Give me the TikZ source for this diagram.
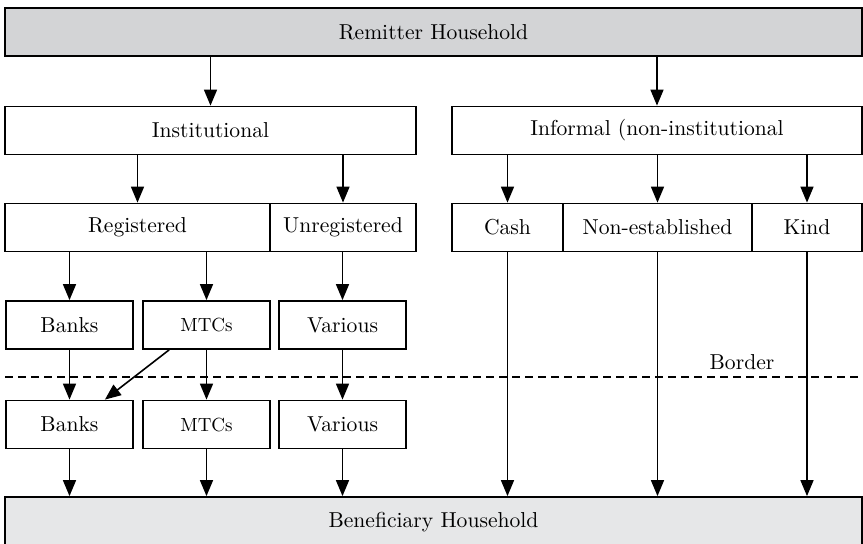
\documentclass[tikz,border=0pt]{standalone}
\usepackage{xcolor}
\usetikzlibrary{arrows.meta,positioning,calc}
\definecolor{housetop}{HTML}{D3D4D6}
\definecolor{housebot}{HTML}{E6E7E8}

\begin{document}
\begin{tikzpicture}[
    x=0.5pt, y=-0.5pt,
    font=\fontsize{10.8}{12}\selectfont,
    box/.style={rectangle, draw, line width=0.9pt, inner sep=0pt, minimum height=24pt, align=center},
    house/.style={box, minimum width=428.5pt},
    agent/.style={box, minimum width=63.5pt},
    arrow/.style={-{Triangle[length=8pt,width=6.5pt]}, line width=0.8pt}
]
\useasboundingbox (0,0) rectangle (863,543);

% Households
\node[house, fill=housetop] (remit) at (433.5,32) {Remitter Household};
\node[house, fill=housebot, minimum height=25pt] (benef) at (433.5,522) {Beneficiary Household};

% Channels
\node[box, minimum width=205.5pt] (inst) at (210.5,130.5) {Institutional};
\node[box, minimum width=205pt] (infor) at (657,130.5) {Informal (non-institutional};

% Types
\node[box, minimum width=132.5pt] (reg) at (137.5,227.5) {Registered};
\node[box, minimum width=73pt] (unreg) at (343,227.5) {Unregistered};
\node[box, minimum width=55.5pt] (cash) at (507.5,227.5) {Cash};
\node[box, minimum width=94.5pt] (nonest) at (657.5,227.5) {Non-established};
\node[box, minimum width=55pt] (kind) at (807,227.5) {Kind};

% Sending side
\node[agent] (banksA) at (69.5,325) {Banks};
\node[agent] (mtcA) at (206.5,325) {\fontsize{9.5}{11}\selectfont MTCs};
\node[agent] (varA) at (342.5,325) {Various};

% Receiving side
\node[agent] (banksB) at (69.5,424.5) {Banks};
\node[agent] (mtcB) at (206.5,424.5) {\fontsize{9.5}{11}\selectfont MTCs};
\node[agent] (varB) at (342.5,424.5) {Various};

% Border
\coordinate (bl) at (5,377);
\coordinate (br) at (862,377);
\draw[dash pattern=on 4pt off 2.5pt, line width=0.8pt] (bl) -- (br);
\node (border) at (742,362) {Border};

% Arrows
\draw[arrow] (remit.south -| inst) -- (inst);
\draw[arrow] (remit.south -| infor) -- (infor);
\draw[arrow] (inst.south -| reg) -- (reg);
\draw[arrow] (inst.south -| unreg) -- (unreg);
\foreach \n in {cash, nonest, kind}
    \draw[arrow] (infor.south -| \n) -- (\n);
\draw[arrow] (reg.south -| banksA) -- (banksA);
\draw[arrow] (reg.south -| mtcA) -- (mtcA);
\draw[arrow] (unreg.south -| varA) -- (varA);
\foreach \a/\b in {banksA/banksB, mtcA/mtcB, varA/varB}
    \draw[arrow] (\a) -- (\b);
\draw[arrow] ([xshift=13.5pt]mtcA.south west) -- ([xshift=-14.5pt]banksB.north east);
\foreach \n in {banksB, mtcB, varB, cash, nonest, kind}
    \draw[arrow] (\n) -- (\n |- benef.north);

\end{tikzpicture}
\end{document}
